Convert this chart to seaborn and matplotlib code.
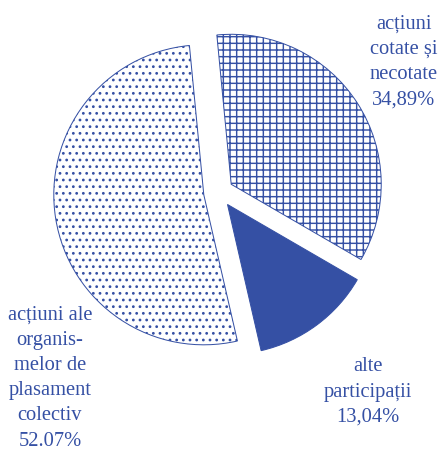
import matplotlib
matplotlib.use("Agg")
import matplotlib.pyplot as plt
import seaborn as sns

# data
categories = ["acțiuni\ncotate și\nnecotate", "alte\nparticipații", "acțiuni ale\norganis-\nmelor de\nplasament\ncolectiv"]
shares = [34.89, 13.04, 52.07]
share_labels = ["34,89%", "13,04%", "52.07%"]

blue = "#3550a4"
hatches = ["++", None, ".."]
fills = ["white", blue, "white"]

sns.set_style("white")
plt.rcParams["font.family"] = ["Liberation Serif", "DejaVu Serif"]
plt.rcParams["hatch.color"] = blue
plt.rcParams["hatch.linewidth"] = 1.3

fig = plt.figure(figsize=(5.5, 5.6375), dpi=80)
ax = fig.add_axes([0, 0, 1, 1])

wedges, _ = ax.pie(
    shares,
    startangle=95.5,
    counterclock=False,
    explode=[0.1, 0.1, 0.1],
    colors=fills,
    wedgeprops=dict(edgecolor=blue, linewidth=0.9),
)
for w, h in zip(wedges, hatches):
    if h:
        w.set_hatch(h)

# pie centre at (218.6, 192.4) px, radius 150 px
cx, cy, r = 218.6, 192.4, 150.0
ax.set_xlim(-cx / r, (440 - cx) / r)
ax.set_ylim(-(451 - cy) / r, cy / r)
ax.set_axis_off()

label_px = [(404, 62), (368, 392), (50, 378)]
for cat, lab, (px, py) in zip(categories, share_labels, label_px):
    ax.text((px - cx) / r, (cy - py) / r, cat + "\n" + lab,
            ha="center", va="center", fontsize=18.5, color=blue,
            linespacing=1.45)

fig.savefig("out.png", dpi=80)
